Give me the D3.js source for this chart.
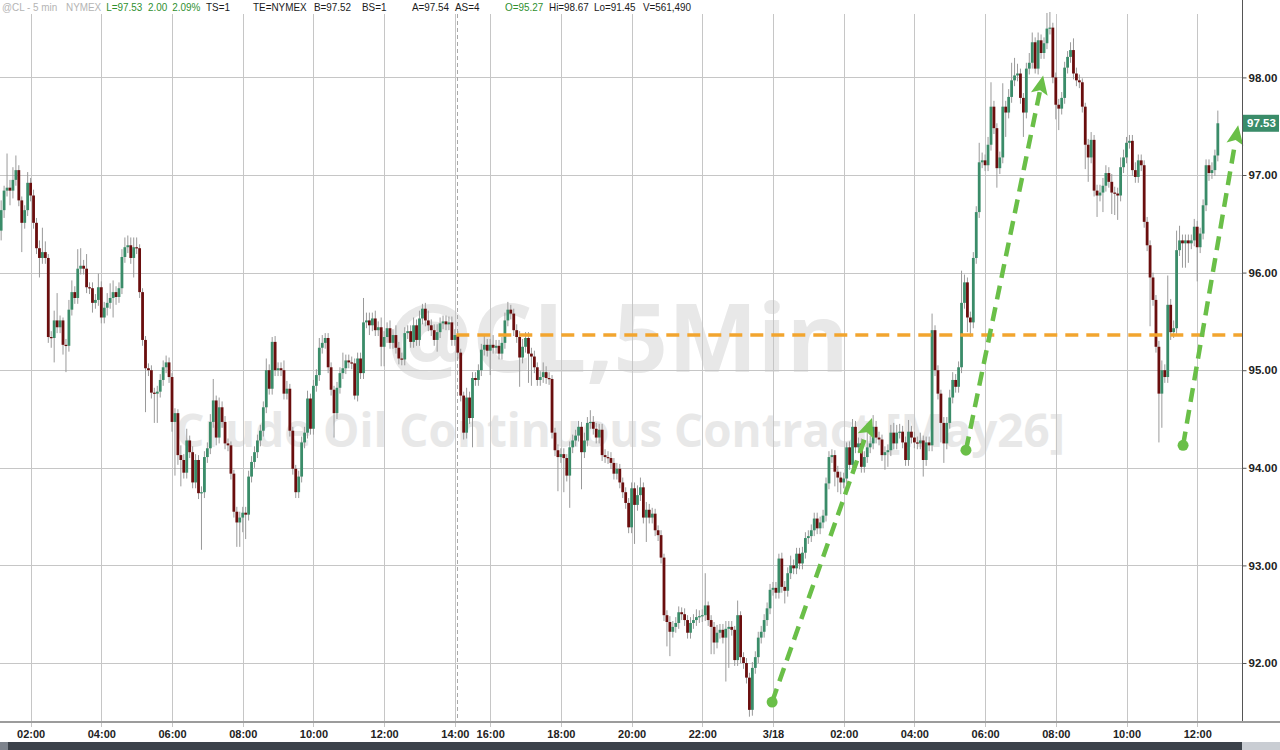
<!DOCTYPE html>
<html><head><meta charset="utf-8">
<script src="https://cdn.jsdelivr.net/npm/d3@7"></script>
<style>html,body{margin:0;padding:0;background:#fff;overflow:hidden}svg{display:block}</style>
</head><body><svg id="c" width="1280" height="750"></svg>
<script>
// ---------------- DATA ----------------
const firstOpen = 96.43;
const closes = [
96.64,96.84,96.87,96.84,96.95,97.05,96.74,96.51,96.64,96.92,
96.79,96.51,96.25,96.15,96.21,96.15,95.34,95.33,95.51,95.44,
95.51,95.26,95.25,95.62,95.80,95.74,96.04,96.07,96.04,95.85,
95.84,95.69,95.72,95.85,95.54,95.64,95.69,95.74,95.80,95.75,
95.84,96.16,96.26,96.28,96.15,96.26,96.25,95.80,95.31,95.02,
95.00,94.77,94.76,94.78,94.90,95.03,95.08,94.93,94.47,94.56,
94.13,94.08,93.95,94.28,94.16,93.85,94.08,93.74,93.75,94.11,
94.20,94.47,94.69,94.31,94.62,94.47,94.25,94.23,93.94,93.55,
93.44,93.49,93.54,93.52,93.91,94.06,94.16,94.28,94.38,94.62,
95.00,94.81,95.29,95.00,95.02,95.00,94.76,94.81,94.38,93.99,
93.75,93.91,94.26,94.36,94.71,94.40,94.84,94.95,95.23,95.28,
95.33,95.03,94.80,94.56,94.82,94.97,95.02,95.10,95.08,95.07,
94.74,95.12,94.97,95.49,95.51,95.46,95.53,95.41,95.44,95.24,
95.34,95.43,95.28,95.36,95.23,95.12,95.11,95.38,95.40,95.29,
95.46,95.31,95.53,95.63,95.51,95.46,95.41,95.31,95.39,95.48,
95.50,95.47,95.49,95.31,95.36,95.18,94.74,94.36,94.72,94.51,
94.92,94.90,95.00,95.21,95.26,95.20,95.26,95.23,95.25,95.17,
95.28,95.51,95.62,95.58,95.41,95.34,95.13,95.24,95.33,95.17,
95.14,95.03,94.90,94.93,94.98,94.92,94.91,94.36,94.18,94.11,
94.14,94.10,93.92,94.21,94.28,94.33,94.42,94.16,94.28,94.46,
94.47,94.40,94.31,94.39,94.13,94.11,94.10,94.05,93.94,93.99,
93.85,93.75,93.64,93.39,93.79,93.62,93.72,93.80,93.49,93.57,
93.49,93.53,93.36,93.31,93.08,92.49,92.42,92.32,92.37,92.41,
92.52,92.50,92.44,92.31,92.41,92.44,92.47,92.48,92.49,92.59,
92.44,92.37,92.21,92.31,92.34,92.26,92.35,92.37,92.34,92.03,
92.49,92.06,92.00,91.85,91.52,91.95,92.06,92.26,92.32,92.44,
92.56,92.75,92.77,92.72,93.07,92.78,92.74,92.92,93.00,92.97,
93.12,93.02,93.13,93.28,93.30,93.36,93.48,93.38,93.44,93.51,
93.84,94.11,94.13,93.96,93.90,93.85,93.89,94.21,94.03,94.42,
94.21,94.25,94.01,94.11,94.21,94.25,94.42,94.31,94.29,94.13,
94.16,94.18,94.36,94.25,94.36,94.37,94.26,94.08,94.37,94.31,
94.26,94.25,94.28,94.08,94.26,94.23,95.41,95.00,94.76,94.46,
94.25,94.46,94.72,94.90,94.83,95.03,95.69,95.90,95.54,95.49,
96.15,96.62,97.13,97.15,97.10,97.31,97.70,97.48,97.07,97.18,
97.70,97.64,97.80,97.97,98.02,98.04,97.79,97.64,98.09,98.15,
98.36,98.09,98.38,98.25,98.35,98.50,98.51,98.00,97.72,97.68,
97.79,98.10,98.21,98.28,98.04,97.97,97.95,97.70,97.31,97.18,
97.36,96.84,96.79,96.82,96.89,97.02,96.93,96.82,96.81,96.79,
97.08,97.18,97.33,97.35,97.05,96.98,97.15,97.10,96.52,96.28,
95.95,95.72,95.24,94.76,95.00,94.93,95.67,95.39,95.43,96.23,
96.33,96.30,96.33,96.30,96.33,96.47,96.26,96.40,96.69,97.10,
97.02,97.05,97.20,97.53];
const upperWick = [
.10,.05,.35,.08,.13,.15,.05,.04,.05,.11,
.05,.06,.05,.08,.25,.11,.04,.06,.10,.28,
.05,.03,.06,.10,.12,.06,.20,.18,.06,.15,
.05,.06,.06,.14,.06,.06,.10,.15,.12,.06,
.06,.08,.10,.10,.08,.10,.10,.04,.04,.04,
.05,.05,.05,.06,.06,.07,.07,.05,.04,.05,
.04,.10,.06,.12,.05,.06,.06,.05,.06,.06,
.06,.08,.22,.05,.10,.06,.06,.05,.04,.04,
.05,.06,.06,.06,.06,.06,.06,.06,.06,.06,
.12,.06,.05,.06,.06,.06,.10,.08,.05,.04,
.04,.06,.06,.06,.08,.05,.06,.06,.10,.08,
.05,.05,.05,.04,.06,.06,.16,.06,.06,.06,
.05,.06,.06,.25,.08,.08,.06,.08,.06,.10,
.06,.06,.08,.06,.10,.06,.06,.06,.06,.06,
.08,.06,.08,.05,.06,.10,.06,.06,.08,.06,
.06,.06,.06,.06,.06,.04,.04,.04,.10,.06,
.06,.06,.06,.06,.10,.06,.06,.10,.06,.06,
.06,.08,.08,.05,.05,.06,.06,.08,.06,.06,
.06,.06,.05,.06,.10,.06,.06,.04,.05,.06,
.06,.06,.04,.06,.06,.06,.06,.05,.08,.06,
.12,.06,.06,.06,.06,.06,.06,.06,.05,.06,
.05,.05,.05,.05,.06,.06,.10,.10,.05,.08,
.06,.06,.05,.05,.05,.04,.05,.06,.06,.06,
.06,.05,.06,.05,.06,.06,.08,.06,.06,.33,
.04,.05,.05,.08,.06,.06,.08,.06,.06,.04,
.15,.04,.05,.05,.05,.06,.06,.06,.06,.06,
.06,.06,.06,.06,.05,.06,.06,.06,.10,.06,
.06,.06,.06,.06,.06,.06,.06,.06,.06,.06,
.06,.06,.06,.05,.06,.06,.06,.05,.06,.08,
.06,.06,.05,.06,.25,.08,.12,.06,.06,.05,
.06,.06,.08,.10,.08,.08,.06,.06,.12,.06,
.06,.06,.08,.05,.06,.06,.17,.05,.05,.04,
.06,.06,.08,.08,.06,.06,.33,.08,.05,.06,
.06,.06,.20,.08,.06,.08,.25,.06,.05,.06,
.24,.06,.08,.18,.18,.10,.05,.05,.06,.10,
.10,.05,.08,.06,.06,.16,.16,.05,.05,.06,
.06,.06,.06,.08,.12,.06,.06,.04,.04,.06,
.08,.05,.06,.08,.08,.08,.06,.08,.06,.06,
.10,.08,.06,.06,.06,.08,.06,.06,.05,.05,
.05,.05,.05,.06,.10,.06,.30,.06,.08,.20,
.15,.06,.06,.06,.06,.08,.06,.06,.06,.06,
.06,.08,.06,.13];
const lowerWick = [
.10,.08,.06,.15,.08,.06,.06,.30,.06,.06,
.06,.06,.06,.20,.06,.06,.06,.10,.25,.06,
.06,.10,.27,.06,.06,.06,.06,.06,.06,.06,
.06,.10,.06,.06,.06,.06,.08,.06,.20,.08,
.06,.06,.06,.06,.06,.20,.06,.06,.06,.45,
.06,.06,.30,.30,.06,.06,.06,.06,.10,.55,
.10,.27,.06,.06,.06,.06,.06,.06,.58,.06,
.06,.06,.06,.08,.06,.06,.06,.06,.06,.06,
.25,.25,.15,.25,.06,.06,.06,.06,.06,.06,
.06,.06,.06,.06,.06,.06,.06,.06,.06,.06,
.06,.06,.06,.06,.06,.06,.06,.06,.06,.06,
.06,.06,.06,.25,.06,.06,.06,.06,.06,.06,
.04,.06,.06,.06,.06,.10,.06,.06,.06,.20,
.20,.06,.06,.06,.06,.06,.06,.06,.06,.06,
.06,.06,.06,.06,.06,.06,.06,.06,.12,.06,
.06,.06,.06,.06,.06,.06,.06,.07,.06,.06,
.30,.06,.06,.06,.06,.06,.25,.06,.06,.06,
.06,.06,.06,.06,.06,.06,.30,.06,.06,.30,
.30,.06,.06,.06,.06,.06,.06,.06,.06,.35,
.06,.35,.06,.33,.06,.06,.06,.38,.06,.06,
.06,.06,.06,.06,.06,.06,.06,.06,.06,.06,
.06,.06,.06,.06,.06,.40,.06,.06,.06,.25,
.06,.06,.06,.06,.06,.06,.25,.25,.06,.06,
.06,.06,.06,.06,.06,.06,.06,.06,.06,.06,
.06,.28,.12,.06,.06,.06,.45,.40,.06,.06,
.06,.06,.06,.06,.07,.06,.06,.06,.06,.06,
.06,.06,.06,.06,.06,.06,.13,.06,.06,.06,
.06,.06,.06,.06,.06,.06,.06,.06,.06,.06,
.06,.06,.06,.15,.15,.12,.06,.06,.05,.06,
.06,.06,.06,.06,.06,.06,.06,.06,.06,.06,
.15,.15,.06,.06,.06,.06,.06,.06,.06,.06,
.06,.06,.06,.17,.06,.06,.06,.06,.06,.20,
.20,.06,.06,.06,.06,.06,.06,.06,.15,.15,
.06,.06,.06,.06,.06,.06,.06,.06,.20,.06,
.06,.25,.06,.06,.06,.06,.06,.25,.06,.06,
.06,.05,.06,.06,.06,.06,.06,.06,.15,.22,
.06,.06,.06,.06,.06,.06,.06,.06,.25,.25,
.06,.06,.22,.06,.20,.06,.06,.22,.22,.25,
.06,.06,.06,.06,.06,.06,.06,.06,.06,.06,
.50,.06,.06,.50,.35,.06,.06,.08,.06,.06,
.06,.25,.25,.20,.06,.06,.35,.06,.06,.06,
.08,.06,.06,.06];
const timeTickIndex  = [10,34,58,82,106,130,154,166,190,214,238,262,286,310,334,358,382,406];
const timeTickLabels = ["02:00","04:00","06:00","08:00","10:00","12:00","14:00","16:00","18:00","20:00","22:00","3/18","02:00","04:00","06:00","08:00","10:00","12:00"];
const priceTicks = [92,93,94,95,96,97,98];
const sessionBreakIndex = 154.7;
const resistanceLevel = 95.36;
const resistanceStartIndex = 154.5;
const lastPrice = 97.53;
const arrowStarts = [[261.7,91.60],[327.5,94.18],[401.2,94.23]];
const arrowEnds   = [[295.6,94.51],[353.7,98.02],[419.9,97.51]];
const headerTexts  = ["@CL - 5 min","NYMEX","L=97.53","2.00","2.09%","TS=1","TE=NYMEX","B=97.52","BS=1","A=97.54","AS=4","O=95.27","Hi=98.67","Lo=91.45","V=561,490"];
const headerKinds  = ["sym","sym","chg","chg","chg","n","n","n","n","n","n","chg","n","n","n"];
const watermarkMain = "@CL,5Min";
const watermarkSub = "Crude Oil Continuous Contract [May26]";

// ---------------- LAYOUT ----------------
const W = 1280, H = 750;
const plotRight = 1242, plotTop = 14, plotBottom = 722;
const headerX = [2,66,106,148,170,206,253,314,362,412,455,505,549,594,643];
const headerSqueeze = 0.86, headerMinGap = 5;
const svg = d3.select("#c");
const x = d3.scaleLinear().domain([0, 421]).range([1.15, 1241.4]);
const y = d3.scaleLinear().domain([92, 98]).range([663, 77.4]);

const bars = closes.map((c, i) => {
  const o = i === 0 ? firstOpen : closes[i - 1];
  return {i, o, c, h: Math.max(o, c) + upperWick[i], l: Math.min(o, c) - lowerWick[i]};
});

// watermark
const wm = svg.append("g").attr("fill", "#e8e8e8").attr("font-family", "'Open Sans', 'DejaVu Sans', sans-serif").attr("font-weight", 700).attr("text-anchor", "middle");
function fitText(sel, target) {
  const len = sel.node().getComputedTextLength();
  const fs = parseFloat(sel.attr("font-size"));
  sel.attr("font-size", fs * target / len);
}
const t1 = wm.append("text").attr("x", 618).attr("y", 372).attr("font-size", 100).text(watermarkMain);
fitText(t1, 462);
const t2 = wm.append("text").attr("x", 620).attr("y", 447).attr("font-size", 50).text(watermarkSub);
fitText(t2, 890);

// grid
const grid = svg.append("g").attr("stroke", "#c6c6c6").attr("stroke-width", 1).attr("shape-rendering", "crispEdges");
grid.selectAll("line.h").data(priceTicks).join("line").attr("class", "h")
  .attr("x1", 0).attr("x2", plotRight).attr("y1", d => Math.round(y(d)) + 0.5).attr("y2", d => Math.round(y(d)) + 0.5);
grid.selectAll("line.v").data(timeTickIndex).join("line").attr("class", "v")
  .attr("y1", plotTop).attr("y2", plotBottom + 5).attr("x1", d => Math.round(x(d)) + 0.5).attr("x2", d => Math.round(x(d)) + 0.5);
svg.append("line").attr("x1", Math.round(x(sessionBreakIndex)) + 0.5).attr("x2", Math.round(x(sessionBreakIndex)) + 0.5)
  .attr("y1", plotTop).attr("y2", plotBottom).attr("stroke", "#a8a8a8").attr("stroke-dasharray", "4,3").attr("shape-rendering", "crispEdges");

// candles
const bw = 2.8;
const cg = svg.append("g");
cg.selectAll("line").data(bars).join("line")
  .attr("x1", d => x(d.i)).attr("x2", d => x(d.i))
  .attr("y1", d => y(d.h)).attr("y2", d => y(d.l))
  .attr("stroke", "#9a9a9a").attr("stroke-width", 1);
cg.selectAll("rect").data(bars).join("rect")
  .attr("x", d => x(d.i) - bw / 2).attr("width", bw)
  .attr("y", d => y(Math.max(d.o, d.c)))
  .attr("height", d => Math.max(1.2, Math.abs(y(d.o) - y(d.c))))
  .attr("fill", d => d.c >= d.o ? "#3a8c69" : "#6a0e0e");

// resistance line
svg.append("line").attr("x1", x(resistanceStartIndex)).attr("x2", plotRight)
  .attr("y1", y(resistanceLevel)).attr("y2", y(resistanceLevel))
  .attr("stroke", "#f2a52f").attr("stroke-width", 3.5).attr("stroke-dasharray", "13,8");

// arrows
const green = "#6abf48";
const ag = svg.append("g");
arrowStarts.forEach((s, k) => {
  const e = arrowEnds[k];
  const x0 = x(s[0]), y0 = y(s[1]), x1 = x(e[0]), y1 = y(e[1]);
  const dx = x1 - x0, dy = y1 - y0, L = Math.hypot(dx, dy), ux = dx / L, uy = dy / L;
  const hl = 19, hw = 8.5;
  const bx = x1 - ux * hl, by = y1 - uy * hl;
  ag.append("line").attr("x1", x0).attr("y1", y0).attr("x2", bx + ux * 2).attr("y2", by + uy * 2)
    .attr("stroke", green).attr("stroke-width", 4.5).attr("stroke-dasharray", "14,8");
  ag.append("circle").attr("cx", x0).attr("cy", y0).attr("r", 5.5).attr("fill", green);
  ag.append("path").attr("d", `M${x1},${y1}L${bx - uy * hw},${by + ux * hw}L${bx + ux * 4},${by + uy * 4}L${bx + uy * hw},${by - ux * hw}Z`).attr("fill", green);
});

// axes
const yAxis = d3.axisRight(y).tickValues(priceTicks).tickFormat(d3.format(".2f")).tickSize(4).tickPadding(2);
const ya = svg.append("g").attr("transform", `translate(${plotRight + 0.5},0)`).call(yAxis);
ya.select(".domain").attr("d", `M0,0V${plotBottom}`).attr("stroke", "#555").attr("shape-rendering", "crispEdges");
ya.selectAll(".tick line").attr("stroke", "#555");
ya.selectAll("text").attr("font-family", "Arial, 'Liberation Sans', sans-serif").attr("font-size", 11.5).attr("font-weight", 700).attr("fill", "#222");

const xAxis = d3.axisBottom(x).tickValues(timeTickIndex).tickFormat((d, i) => timeTickLabels[i]).tickSize(0).tickPadding(8);
const xa = svg.append("g").attr("transform", `translate(0,${plotBottom})`).call(xAxis);
xa.select(".domain").attr("d", `M0,0H${W}`).attr("stroke", "#9c9c9c").attr("stroke-width", 2);
xa.selectAll("text").attr("font-family", "Arial, 'Liberation Sans', sans-serif").attr("font-size", 11).attr("font-weight", 700).attr("fill", "#222");

// last price tag
const lp = svg.append("g").attr("transform", `translate(${plotRight + 1},${y(lastPrice)})`);
lp.append("rect").attr("x", 0).attr("y", -8.5).attr("width", 36).attr("height", 17).attr("fill", "#3a8c69");
lp.append("text").attr("x", 4).attr("y", 4).attr("fill", "#fff").attr("font-family", "Arial, 'Liberation Sans', sans-serif")
  .attr("font-size", 11.5).attr("font-weight", 700).text(d3.format(".2f")(lastPrice));

// bottom bar
svg.append("rect").attr("x", 0).attr("y", 742).attr("width", W).attr("height", 8).attr("fill", "#3c424a");
svg.append("rect").attr("x", 0).attr("y", 742).attr("width", 8).attr("height", 8).attr("fill", "#7d838c");
svg.append("rect").attr("x", plotRight).attr("y", 742).attr("width", W - plotRight).attr("height", 8).attr("fill", "#c9cdd3");

// header
svg.append("rect").attr("x", 0).attr("y", 0).attr("width", 720).attr("height", 13).attr("fill", "#fff");
const hdr = svg.append("g").attr("font-family", "Arial, 'Liberation Sans', sans-serif").attr("font-size", 11.5);
const kindColor = {sym: "#b4b4b4", chg: "#2f8f2f", n: "#1a1a1a"};
let prevEnd = -Infinity;
hdr.selectAll("text").data(headerTexts).join("text")
  .attr("y", 11)
  .attr("fill", (d, i) => kindColor[headerKinds[i]]).text(d => d)
  .each(function (d, i) {
    const len = this.getComputedTextLength() * headerSqueeze;
    const x0 = Math.max(headerX[i], prevEnd + headerMinGap);
    d3.select(this).attr("x", x0).attr("textLength", len).attr("lengthAdjust", "spacingAndGlyphs");
    prevEnd = x0 + len;
  });
</script></body></html>
